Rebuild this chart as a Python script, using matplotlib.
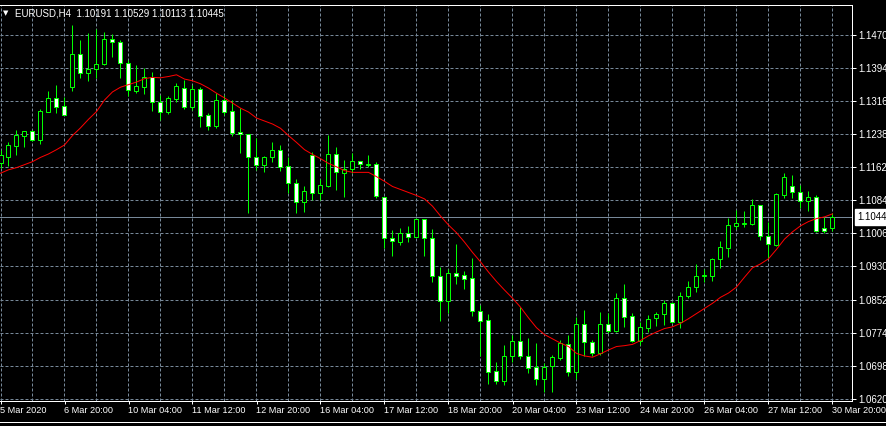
import matplotlib
matplotlib.use("Agg")
import matplotlib.pyplot as plt
from matplotlib.lines import Line2D
from matplotlib.transforms import blended_transform_factory

# ---------------- data (EURUSD, H4) ----------------
symbol = "EURUSD,H4"
open_ = [
    1.1171, 1.1186, 1.1211, 1.1235, 1.1245, 1.1225, 1.1291, 1.1322, 1.1303, 1.1349,
    1.1426, 1.1381, 1.1390, 1.1402, 1.1460, 1.1453, 1.1404, 1.1340, 1.1349, 1.1371,
    1.1314, 1.1291, 1.1321, 1.1347, 1.1302, 1.1343, 1.1282, 1.1258, 1.1318, 1.1292,
    1.1243, 1.1238, 1.1184, 1.1167, 1.1184, 1.1201, 1.1163, 1.1123, 1.1079, 1.1189,
    1.1101, 1.1118, 1.1191, 1.1148, 1.1158, 1.1176, 1.1167, 1.1168, 1.1092, 1.0995,
    1.0987, 1.1007, 1.0999, 1.1039, 1.0995, 1.0907, 1.0848, 1.0913, 1.0908, 1.0901,
    1.0824, 1.0803, 1.0684, 1.0662, 1.0719, 1.0754, 1.0721, 1.0693, 1.0667, 1.0697,
    1.0716, 1.0749, 1.0683, 1.0794, 1.0752, 1.0728, 1.0794, 1.0779, 1.0855, 1.0813,
    1.0756, 1.0785, 1.0808, 1.0817, 1.0843, 1.0799, 1.0860, 1.0880, 1.0907, 1.0907,
    1.0946, 1.0973, 1.1024, 1.1029, 1.1029, 1.1072, 1.1001, 1.0980, 1.1097, 1.1116,
    1.1104, 1.1081, 1.1091, 1.1018, 1.10191]
high = [
    1.1201, 1.1221, 1.1248, 1.1245, 1.1248, 1.1296, 1.1339, 1.1353, 1.1324, 1.1493,
    1.1458, 1.1474, 1.1484, 1.1476, 1.1472, 1.1458, 1.1412, 1.1400, 1.1394, 1.1384,
    1.1330, 1.1327, 1.1357, 1.1365, 1.1353, 1.1349, 1.1287, 1.1334, 1.1330, 1.1318,
    1.1299, 1.1238, 1.1229, 1.1187, 1.1219, 1.1213, 1.1186, 1.1133, 1.1118, 1.1197,
    1.1133, 1.1236, 1.1208, 1.1178, 1.1194, 1.1176, 1.1190, 1.1174, 1.1092, 1.1014,
    1.1020, 1.1024, 1.1043, 1.1039, 1.1016, 1.0927, 1.0922, 1.0982, 1.0918, 1.0949,
    1.0840, 1.0817, 1.0705, 1.0746, 1.0769, 1.0834, 1.0762, 1.0750, 1.0703, 1.0722,
    1.0757, 1.0769, 1.0810, 1.0827, 1.0757, 1.0823, 1.0820, 1.0868, 1.0888, 1.0820,
    1.0799, 1.0816, 1.0823, 1.0851, 1.0846, 1.0870, 1.0895, 1.0935, 1.0922, 1.0950,
    1.0989, 1.1043, 1.1061, 1.1059, 1.1086, 1.1072, 1.1034, 1.1100, 1.1147, 1.1143,
    1.1119, 1.1105, 1.1096, 1.1044, 1.10529]
low = [
    1.1159, 1.1164, 1.1190, 1.1209, 1.1223, 1.1215, 1.1291, 1.1287, 1.1282, 1.1338,
    1.1369, 1.1363, 1.1369, 1.1400, 1.1419, 1.1369, 1.1327, 1.1335, 1.1332, 1.1293,
    1.1271, 1.1285, 1.1314, 1.1297, 1.1295, 1.1256, 1.1248, 1.1252, 1.1283, 1.1234,
    1.1195, 1.1055, 1.1155, 1.1151, 1.1174, 1.1153, 1.1100, 1.1053, 1.1057, 1.1084,
    1.1084, 1.1115, 1.1108, 1.1092, 1.1147, 1.1158, 1.1162, 1.1088, 1.0972, 1.0954,
    1.0979, 1.0987, 1.0999, 1.0954, 1.0893, 1.0802, 1.0820, 1.0887, 1.0877, 1.0813,
    1.0721, 1.0654, 1.0654, 1.0653, 1.0705, 1.0714, 1.0679, 1.0652, 1.0636, 1.0636,
    1.0710, 1.0672, 1.0665, 1.0721, 1.0721, 1.0722, 1.0773, 1.0777, 1.0788, 1.0753,
    1.0746, 1.0777, 1.0790, 1.0792, 1.0796, 1.0785, 1.0855, 1.0870, 1.0893, 1.0896,
    1.0926, 1.0952, 1.1016, 1.1022, 1.1026, 1.0991, 1.0948, 1.0978, 1.1090, 1.1090,
    1.1066, 1.1059, 1.1010, 1.1008, 1.10113]
close = [
    1.1190, 1.1213, 1.1236, 1.1245, 1.1225, 1.1292, 1.1322, 1.1302, 1.1282, 1.1426,
    1.1381, 1.1391, 1.1402, 1.1460, 1.1453, 1.1404, 1.1341, 1.1350, 1.1371, 1.1314,
    1.1289, 1.1322, 1.1351, 1.1302, 1.1343, 1.1281, 1.1258, 1.1318, 1.1291, 1.1242,
    1.1238, 1.1184, 1.1167, 1.1184, 1.1201, 1.1162, 1.1123, 1.1079, 1.1105, 1.1100,
    1.1119, 1.1191, 1.1149, 1.1158, 1.1176, 1.1168, 1.1169, 1.1094, 1.0995, 1.0989,
    1.1007, 1.0999, 1.1039, 1.0995, 1.0907, 1.0848, 1.0913, 1.0907, 1.0900, 1.0824,
    1.0802, 1.0683, 1.0662, 1.0719, 1.0754, 1.0721, 1.0692, 1.0667, 1.0693, 1.0717,
    1.0750, 1.0683, 1.0794, 1.0752, 1.0728, 1.0794, 1.0779, 1.0855, 1.0812, 1.0756,
    1.0787, 1.0806, 1.0817, 1.0843, 1.0799, 1.0860, 1.0880, 1.0907, 1.0909, 1.0946,
    1.0974, 1.1025, 1.1030, 1.1030, 1.1072, 1.1001, 1.0981, 1.1098, 1.1137, 1.1104,
    1.1081, 1.1091, 1.1012, 1.1013, 1.10445]
moving_avg = [
    1.1147, 1.1155, 1.1160, 1.1167, 1.1174, 1.1184, 1.1192, 1.1202, 1.1213, 1.1235,
    1.1253, 1.1273, 1.1291, 1.1318, 1.1337, 1.1348, 1.1354, 1.1360, 1.1368, 1.1371,
    1.1370, 1.1373, 1.1377, 1.1367, 1.1363, 1.1356, 1.1346, 1.1334, 1.1323, 1.1311,
    1.1299, 1.1290, 1.1276, 1.1269, 1.1262, 1.1252, 1.1235, 1.1219, 1.1202, 1.1191,
    1.1181, 1.1170, 1.1162, 1.1153, 1.1149, 1.1149, 1.1149, 1.1139, 1.1128, 1.1116,
    1.1109, 1.1102, 1.1095, 1.1087, 1.1070, 1.1047, 1.1026, 1.1008, 1.0986, 1.0962,
    1.0940, 1.0916, 1.0894, 1.0874, 1.0855, 1.0834, 1.0809, 1.0786, 1.0770, 1.0760,
    1.0750, 1.0742, 1.0726, 1.0720, 1.0717, 1.0725, 1.0734, 1.0742, 1.0744, 1.0747,
    1.0756, 1.0767, 1.0776, 1.0784, 1.0788, 1.0796, 1.0807, 1.0819, 1.0831, 1.0843,
    1.0857, 1.0867, 1.0881, 1.0904, 1.0926, 1.0935, 1.0947, 1.0969, 1.0993, 1.1010,
    1.1024, 1.1034, 1.1041, 1.1045, 1.1052]
date_labels = ["5 Mar 2020", "6 Mar 20:00", "10 Mar 04:00", "11 Mar 12:00", "12 Mar 20:00",
               "16 Mar 04:00", "17 Mar 12:00", "18 Mar 20:00", "20 Mar 04:00", "23 Mar 12:00",
               "24 Mar 20:00", "26 Mar 04:00", "27 Mar 12:00", "30 Mar 20:00"]
price_labels = ["1.0620", "1.0698", "1.0774", "1.0852", "1.0930", "1.1006",
                "1.1084", "1.1162", "1.1238", "1.1316", "1.1394", "1.1470"]
price_low, price_high = 1.0620, 1.1470
current_label = "1.1044"

# ---------------- figure ----------------
W, H = 887, 426
PX = 72.0 / 100.0  # one pixel in points
FONT = "Liberation Sans"
GREEN = "#00ff00"
GRID = "#778899"

fig = plt.figure(figsize=(W / 100, H / 100), dpi=100, facecolor="black")
ax = fig.add_axes([0, 25 / H, 852 / W, 396 / H], facecolor="black")

n = len(close)
xs = list(range(n))

# wicks
ax.vlines(xs, low, high, color=GREEN, linewidth=PX, zorder=2)
# bodies
bottoms = [min(o, c) for o, c in zip(open_, close)]
heights = [abs(c - o) for o, c in zip(open_, close)]
faces = ["black" if c >= o else "white" for o, c in zip(open_, close)]
ax.bar(xs, heights, bottom=bottoms, width=0.5, color=faces, edgecolor=GREEN,
       linewidth=PX, zorder=3)

# moving average
ax.plot(xs, moving_avg, color="#ff0000", linewidth=PX, zorder=4)

# current price line
ax.axhline(close[-1], color=GRID, linewidth=PX, zorder=1.5)

# axes limits: 8 px per bar, bar 0 at 0.5 px
ax.set_xlim(-0.5 / 8, (852 - 0.5) / 8)
ax.set_ylim(1.06147, 1.15401)

# y ticks on the right
step = (price_high - price_low) / (len(price_labels) - 1)
yt = [price_low + i * step for i in range(len(price_labels))]
ax.yaxis.tick_right()
ax.set_yticks(yt)
ax.set_yticklabels(price_labels)
ax.tick_params(axis="y", colors="white", length=4 * PX, width=PX, pad=1.5,
               labelsize=7)

# x ticks
xt = list(range(0, n, 8))
ax.set_xticks(xt)
ax.set_xticklabels(date_labels, ha="left")
ax.set_xticks(list(range(4, n, 8)), minor=True)
ax.tick_params(axis="x", which="major", colors="white", length=3 * PX, width=PX,
               pad=1.5, labelsize=6.6)
ax.tick_params(axis="x", which="minor", length=0)
for lab in ax.get_xticklabels() + ax.get_yticklabels():
    lab.set_fontfamily(FONT)
    lab.set_color("white")

ax.grid(True, which="both", color=GRID, linestyle=(0, (3, 2)), linewidth=PX, zorder=0)
ax.set_axisbelow(True)

for side in ["top", "right", "bottom"]:
    ax.spines[side].set_color("white")
    ax.spines[side].set_linewidth(PX)
ax.spines["left"].set_visible(False)

# current price tag
trans = blended_transform_factory(ax.transAxes, ax.transData)
ax.annotate(current_label, xy=(1.0, close[-1]), xycoords=trans,
            xytext=(4, 0), textcoords="offset points", ha="left", va="center",
            color="black", fontsize=7, fontfamily=FONT, zorder=10, annotation_clip=False,
            bbox=dict(boxstyle="square,pad=0.3", fc="white", ec="white"))

# header
fig.text(3 / W, 1 - 13.5 / H, "\u25bc", color="white", fontsize=5,
         fontfamily="DejaVu Sans", va="center", ha="left")
header = "{}  {:.5f} {:.5f} {:.5f} {:.5f}".format(symbol, open_[-1], high[-1], low[-1], close[-1])
fig.text(15 / W, 1 - 13.5 / H, header, color="white", fontsize=7, fontfamily=FONT,
         va="center", ha="left")

# window frame line
fig.add_artist(Line2D([0, 1], [1 - 422 / H, 1 - 422 / H], color="white", linewidth=PX,
                      transform=fig.transFigure))

fig.savefig("out.png", dpi=100, facecolor="black")
